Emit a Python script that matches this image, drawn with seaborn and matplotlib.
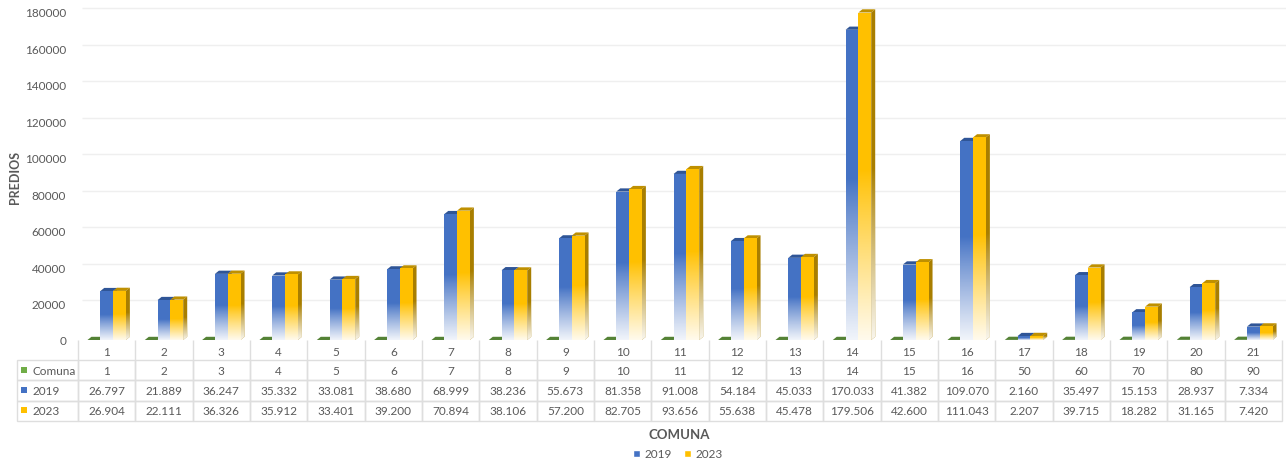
import numpy as np
import pandas as pd
import matplotlib
matplotlib.use("Agg")
import matplotlib.pyplot as plt
from matplotlib.patches import Patch, Polygon, Rectangle
from matplotlib.transforms import Affine2D
import seaborn as sns

# --------------------------
# Data
# --------------------------
categories = [str(i) for i in range(1, 22)]
comuna = [1, 2, 3, 4, 5, 6, 7, 8, 9, 10, 11, 12, 13, 14, 15, 16, 50, 60, 70, 80, 90]
predios_2019 = [26797, 21889, 36247, 35332, 33081, 38680, 68999, 38236, 55673, 81358, 91008,
                54184, 45033, 170033, 41382, 109070, 2160, 35497, 15153, 28937, 7334]
predios_2023 = [26904, 22111, 36326, 35912, 33401, 39200, 70894, 38106, 57200, 82705, 93656,
                55638, 45478, 179506, 42600, 111043, 2207, 39715, 18282, 31165, 7420]
series_names = ["Comuna", "2019", "2023"]
y_ticks = list(range(0, 200000, 20000))

front = {"Comuna": "#70AD47", "2019": "#4472C4", "2023": "#FFC000"}
top = {"Comuna": "#548235", "2019": "#2F5597", "2023": "#BF9000"}
side = {"Comuna": "#4E7A32", "2019": "#2F5597", "2023": "#A87E00"}
text_color = "#595959"
line_color = "#DEDEDE"

W, H = 1286, 464
X0, X1, Y0, Y1 = 78, 1282, 341, 12.6  # plot area in pixels
DEPTH_X, DEPTH_Y = 4, 3.2


def fmt(v):
    return f"{v:,}".replace(",", ".")


df = pd.DataFrame({"cat": categories, "Comuna": comuna, "2019": predios_2019, "2023": predios_2023})
long_df = df.melt(id_vars="cat", value_vars=series_names, var_name="serie", value_name="predios")

# --------------------------
# Figure and bars
# --------------------------
sns.set_theme(style="white")
plt.rcParams["font.family"] = ["Lato", "DejaVu Sans"]

fig = plt.figure(figsize=(W / 100, H / 100), dpi=100)
ax = fig.add_axes([X0 / W, (H - Y0) / H, (X1 - X0) / W, (Y0 - Y1) / H])
ax.patch.set_alpha(0)

sns.barplot(data=long_df, x="cat", y="predios", hue="serie", order=categories, hue_order=series_names,
            palette=front, saturation=1, width=0.67, gap=0, legend=False, ax=ax)

ax.set_xlim(-0.5, 20.5)
ax.set_ylim(0, 180000)
dx = DEPTH_X / ((X1 - X0) / 21)
dy = DEPTH_Y / (Y0 - Y1) * 180000

# white fade towards the floor, solid on the upper half of each bar
t = np.linspace(0, 1, 128)
fade = np.ones((128, 1, 4))
fade[:, 0, 3] = np.clip((0.52 - t) / 0.52, 0, 1) ** 0.9 * 0.93

for i, (name, container) in enumerate(zip(series_names, ax.containers)):
    z = 3 + i
    for bar in container:
        x0, w, h = bar.get_x(), bar.get_width(), bar.get_height()
        x1 = x0 + w
        bar.set_zorder(z + 0.2)
        bar.set_edgecolor("none")
        ax.add_patch(Polygon([(x0, h), (x0 + dx, h + dy), (x1 + dx, h + dy), (x1, h)], closed=True,
                             fc=top[name], ec="none", zorder=z, clip_on=False))
        side_poly = Polygon([(x1, 0), (x1 + dx, dy), (x1 + dx, h + dy), (x1, h)], closed=True,
                            fc=side[name], ec="none", zorder=z, clip_on=False)
        ax.add_patch(side_poly)
        if name == "Comuna":
            continue
        ax.imshow(fade, extent=(x0, x1, 0, h), origin="lower", aspect="auto", zorder=z + 0.3,
                  interpolation="bilinear")
        im = ax.imshow(fade, extent=(x1, x1 + dx, 0, h + dy), origin="lower", aspect="auto",
                       zorder=z + 0.1, interpolation="bilinear", clip_on=True)
        im.set_clip_path(side_poly)

ax.set_xlim(-0.5, 20.5)
ax.set_ylim(0, 180000)

# --------------------------
# Axes, gridlines on the back wall
# --------------------------
sns.despine(ax=ax, left=True, bottom=True)
back = Affine2D().translate(4, 3.5)
ax.hlines(y_ticks[1:], -0.5, 20.5, colors="#EFEFEF", linewidth=1, zorder=1, clip_on=False,
          transform=ax.transData + back)

ax.set_yticks(y_ticks)
ax.set_yticklabels([str(v) for v in y_ticks])
ax.tick_params(axis="y", length=0, pad=8.5, labelsize=8.5, labelcolor=text_color)
ax.set_xticks(range(21))
ax.set_xticklabels(categories)
ax.set_xticks(np.arange(-0.5, 21, 1), minor=True)
ax.tick_params(axis="x", which="major", length=0, pad=4, labelsize=8.5, labelcolor=text_color)
ax.tick_params(axis="x", which="minor", length=14.4, width=1, color=line_color, bottom=True)
ax.set_xlabel("")
ax.set_ylabel("")

fig.text(15 / W, 1 - 177 / H, "PREDIOS", rotation=90, ha="center", va="center", fontsize=9,
         fontweight="bold", color=text_color)
fig.text(679 / W, 1 - 435 / H, "COMUNA", ha="center", va="center", fontsize=9.5,
         fontweight="bold", color=text_color)

# --------------------------
# Data table under the chart
# --------------------------
rows = [["Comuna"] + [str(v) for v in comuna],
        ["2019"] + [fmt(v) for v in predios_2019],
        ["2023"] + [fmt(v) for v in predios_2023]]
px_w = X1 - X0
px_h = Y0 - Y1
table = ax.table(cellText=rows, cellLoc="center",
                 colWidths=[61 / 1265] + [(px_w / 21) / 1265] * 21,
                 bbox=[(17 - X0) / px_w, (Y0 - 422) / px_h, (X1 - 17) / px_w, 61 / px_h])
table.auto_set_font_size(False)
table.set_fontsize(8.5)
for (r, c), cell in table.get_celld().items():
    cell.set_edgecolor(line_color)
    cell.set_linewidth(1)
    cell.set_facecolor("none")
    cell.get_text().set_color(text_color)
    if c == 0:
        cell.PAD = 0.25
        cell.get_text().set_ha("left")
        cell._loc = "left"

for name, y_key in zip(series_names, [371, 391, 411]):
    fig.add_artist(Rectangle((21 / W, 1 - (y_key + 3) / H), 6 / W, 6 / H, transform=fig.transFigure,
                             fc=front[name], ec="none"))

# --------------------------
# Legend
# --------------------------
handles = [Patch(fc=front["2019"], label="2019"), Patch(fc=front["2023"], label="2023")]
fig.legend(handles=handles, loc="center", bbox_to_anchor=(678 / W, 1 - 455 / H), ncol=2, frameon=False,
           fontsize=8.5, labelcolor=text_color, handlelength=0.6, handleheight=0.6, handletextpad=0.4,
           columnspacing=1.0, borderpad=0)

fig.savefig("out.png", dpi=100)
